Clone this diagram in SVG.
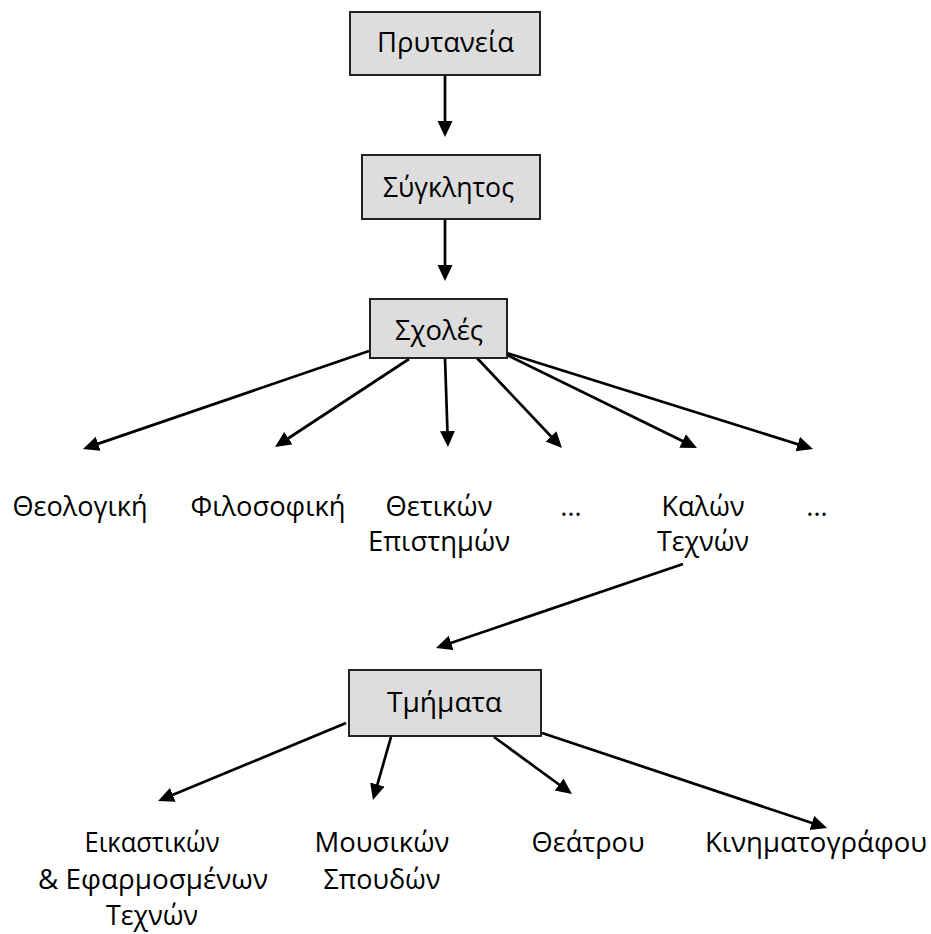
<svg xmlns="http://www.w3.org/2000/svg" width="931" height="934" viewBox="0 0 931 934">
<style>
.box{fill:#dddddd;stroke:#222;stroke-width:2}
.t{font-family:"Open Sans","Noto Sans","Noto Sans CJK SC",sans-serif;font-size:27.5px;fill:#000;text-anchor:middle}
.c line{stroke:#000;stroke-width:2.7;marker-end:url(#ah)}
</style>
<defs>
<marker id="ah" markerUnits="userSpaceOnUse" markerWidth="17" markerHeight="16" refX="5" refY="7.5" orient="auto">
<path d="M0,0 L16,7.5 L0,15 z" fill="#000"/>
</marker>
</defs>
<rect width="931" height="934" fill="#fff"/>
<g class="c" id="connectors">
<line x1="445" y1="75" x2="445" y2="126"/>
<line x1="445" y1="219" x2="445" y2="270"/>
<line x1="369" y1="351" x2="93.4" y2="445.4"/>
<line x1="409" y1="359" x2="284.2" y2="441"/>
<line x1="445" y1="358" x2="447.6" y2="436"/>
<line x1="477" y1="358" x2="554.4" y2="440"/>
<line x1="507" y1="355" x2="687.1" y2="443.2"/>
<line x1="507" y1="353" x2="802.5" y2="445.7"/>
<line x1="683" y1="564" x2="446.4" y2="644.5"/>
<line x1="346" y1="723" x2="168.2" y2="796.8"/>
<line x1="391" y1="737" x2="376" y2="789.4"/>
<line x1="494" y1="737" x2="563.1" y2="787.5"/>
<line x1="542" y1="733" x2="816.6" y2="824.5"/>
</g>
<g id="prytaneia"><rect class="box" x="350" y="12" width="190" height="63"/><text class="t" x="445.5" y="52" textLength="137" lengthAdjust="spacingAndGlyphs">Πρυτανεία</text></g>
<g id="synklitos"><rect class="box" x="362" y="155" width="178" height="64"/><text class="t" x="448.5" y="197" textLength="131" lengthAdjust="spacingAndGlyphs">Σύγκλητος</text></g>
<g id="scholes"><rect class="box" x="370" y="299" width="137" height="59"/><text class="t" x="439" y="340" textLength="88" lengthAdjust="spacingAndGlyphs">Σχολές</text></g>
<g id="theologiki"><text class="t" x="80" y="516" textLength="135" lengthAdjust="spacingAndGlyphs">Θεολογική</text></g>
<g id="filosofiki"><text class="t" x="268" y="516" textLength="155" lengthAdjust="spacingAndGlyphs">Φιλοσοφική</text></g>
<g id="thetikon"><text class="t" x="439" y="516" textLength="107" lengthAdjust="spacingAndGlyphs">Θετικών</text><text class="t" x="439" y="551" textLength="142" lengthAdjust="spacingAndGlyphs">Επιστημών</text></g>
<g id="etc1"><text class="t" x="571" y="516">…</text></g>
<g id="kalon"><text class="t" x="703" y="516" textLength="83" lengthAdjust="spacingAndGlyphs">Καλών</text><text class="t" x="703" y="551" textLength="92" lengthAdjust="spacingAndGlyphs">Τεχνών</text></g>
<g id="etc2"><text class="t" x="817" y="516">…</text></g>
<g id="tmimata"><rect class="box" x="349" y="670" width="192" height="66"/><text class="t" x="444.5" y="712" textLength="115" lengthAdjust="spacingAndGlyphs">Τμήματα</text></g>
<g id="eikastikon"><text class="t" x="152" y="852" textLength="135" lengthAdjust="spacingAndGlyphs">Εικαστικών</text><text class="t" x="153" y="889" textLength="230" lengthAdjust="spacingAndGlyphs">&amp; Εφαρμοσμένων</text><text class="t" x="152" y="925" textLength="92" lengthAdjust="spacingAndGlyphs">Τεχνών</text></g>
<g id="mousikon"><text class="t" x="382" y="852" textLength="135" lengthAdjust="spacingAndGlyphs">Μουσικών</text><text class="t" x="382" y="889" textLength="117" lengthAdjust="spacingAndGlyphs">Σπουδών</text></g>
<g id="theatrou"><text class="t" x="588" y="852" textLength="113" lengthAdjust="spacingAndGlyphs">Θεάτρου</text></g>
<g id="kinimatografou"><text class="t" x="816" y="852" textLength="222" lengthAdjust="spacingAndGlyphs">Κινηματογράφου</text></g>
</svg>
